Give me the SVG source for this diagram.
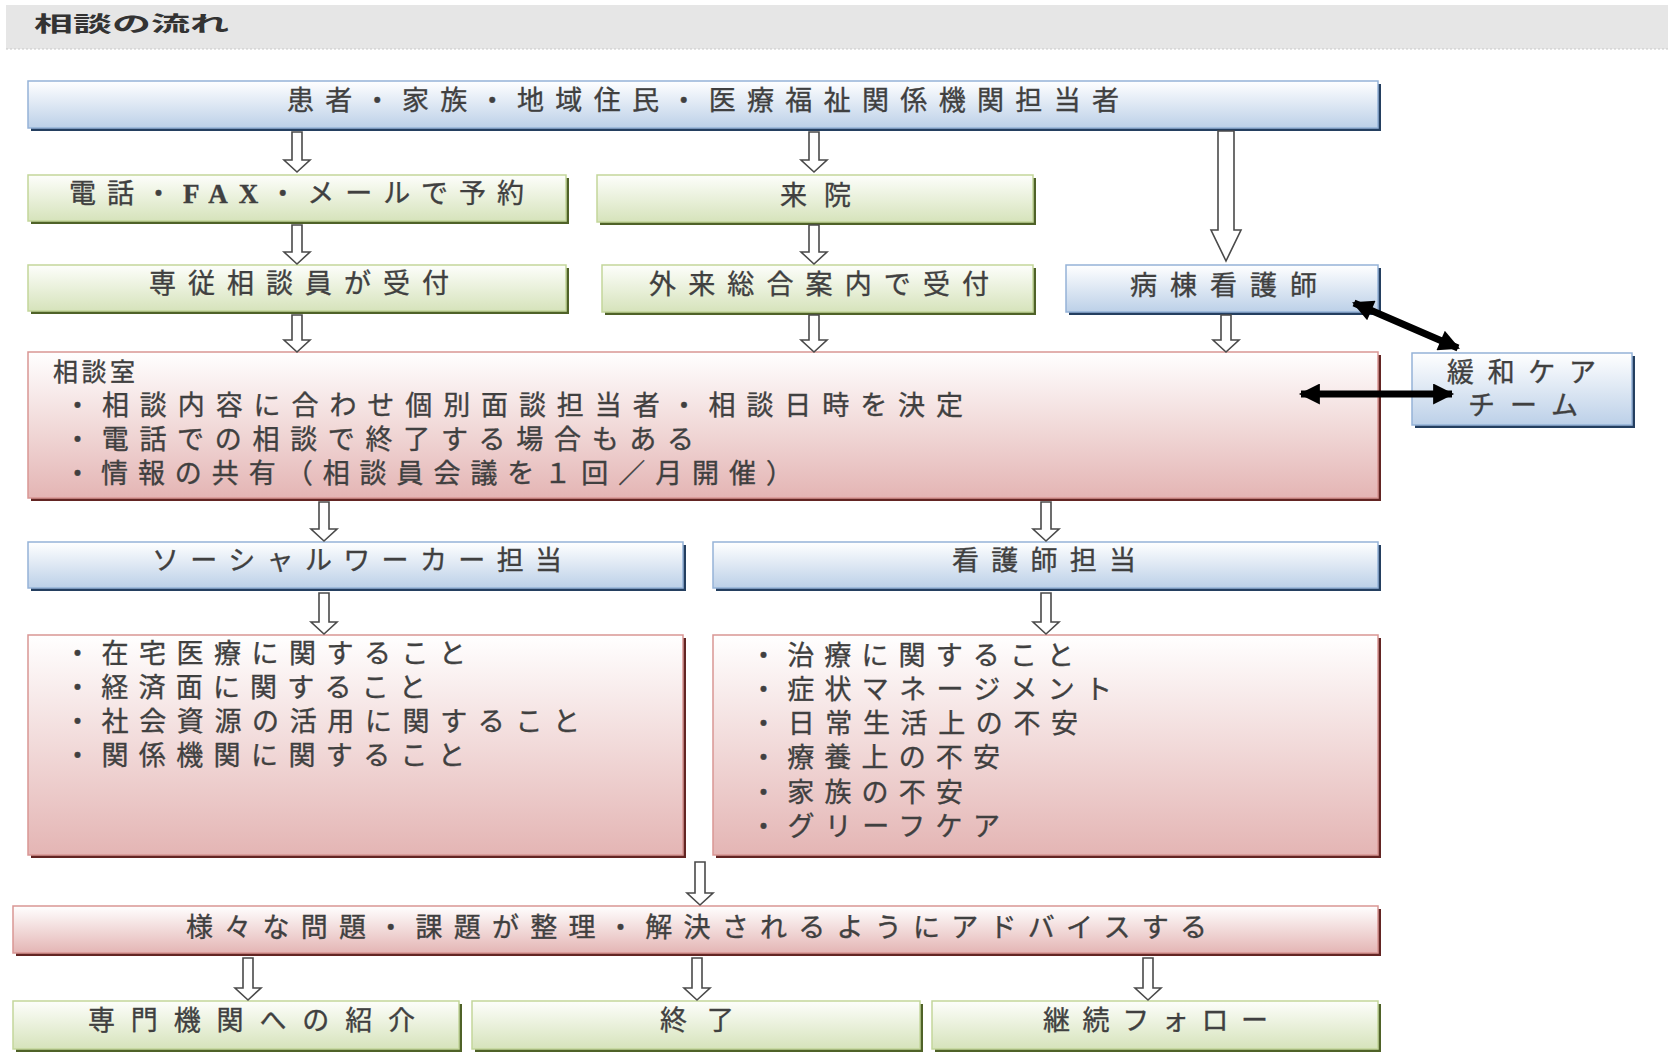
<svg xmlns="http://www.w3.org/2000/svg" width="1668" height="1053" viewBox="0 0 1668 1053">
<defs>
<linearGradient id="gBlue" x1="0" y1="0" x2="0" y2="1"><stop offset="0" stop-color="#ffffff"/><stop offset="1" stop-color="#bcd0e8"/></linearGradient>
<linearGradient id="gGreen" x1="0" y1="0" x2="0" y2="1"><stop offset="0" stop-color="#fdfefb"/><stop offset="1" stop-color="#d6e3bb"/></linearGradient>
<linearGradient id="gRed" x1="0" y1="0" x2="0" y2="1"><stop offset="0" stop-color="#ffffff"/><stop offset="1" stop-color="#e4b5b4"/></linearGradient>
<marker id="bh" viewBox="0 0 10 10" refX="9" refY="5" markerWidth="24" markerHeight="21" markerUnits="userSpaceOnUse" orient="auto-start-reverse"><path d="M0,0 L10,5 L0,10 Z" fill="#000"/></marker>
<style>
.t{font-family:"Liberation Serif","Noto Sans CJK JP",serif;font-size:27px;fill:#404040;stroke:#404040;stroke-width:0.35px;}
.hd{font-family:"Noto Sans CJK JP",sans-serif;font-size:21px;font-weight:bold;fill:#333;}
.bs{fill:#243f60}.gs{fill:#4f6228}.rs{fill:#632523}
.bb{fill:url(#gBlue);stroke:#95b3d7;stroke-width:1.5}
.gb{fill:url(#gGreen);stroke:#c3d69b;stroke-width:1.5}
.rb{fill:url(#gRed);stroke:#d99694;stroke-width:1.5}
.ha{fill:#fff;stroke:#4a4a4a;stroke-width:1.6;stroke-linejoin:miter}
.da{stroke:#000;stroke-width:7;fill:none}
</style>
</defs>
<rect width="1668" height="1053" fill="#fff"/>
<g id="header">
<rect x="6" y="5" width="1662" height="44" fill="#e6e6e6"/>
<line x1="6" y1="49" x2="1668" y2="49" stroke="#c8c8c8" stroke-width="1" stroke-dasharray="2,2"/>
<text class="hd" x="34" y="31" textLength="195" lengthAdjust="spacingAndGlyphs">相談の流れ</text>
</g>

<g id="n-top">
<rect class="bs" x="31" y="84" width="1350" height="47"/>
<rect class="bb" x="28" y="81" width="1350" height="47"/>
<text class="t" x="287" y="110" textLength="832" lengthAdjust="spacing">患者・家族・地域住民・医療福祉関係機関担当者</text>
</g>
<g id="n-tel">
<rect class="gs" x="31" y="178" width="538" height="46"/>
<rect class="gb" x="28" y="175" width="538" height="46"/>
<text class="t" x="69" y="203" textLength="455" lengthAdjust="spacing">電話・<tspan font-weight="bold">FAX</tspan>・メールで予約</text>
</g>
<g id="n-visit">
<rect class="gs" x="600" y="178" width="436" height="47"/>
<rect class="gb" x="597" y="175" width="436" height="47"/>
<text class="t" x="780" y="205" textLength="71" lengthAdjust="spacing">来院</text>
</g>
<g id="n-staff">
<rect class="gs" x="31" y="268" width="538" height="46"/>
<rect class="gb" x="28" y="265" width="538" height="46"/>
<text class="t" x="149" y="293" textLength="300" lengthAdjust="spacing">専従相談員が受付</text>
</g>
<g id="n-info">
<rect class="gs" x="605" y="268" width="431" height="47"/>
<rect class="gb" x="602" y="265" width="431" height="47"/>
<text class="t" x="649" y="294" textLength="340" lengthAdjust="spacing">外来総合案内で受付</text>
</g>
<g id="n-ward">
<rect class="bs" x="1069" y="268" width="312" height="47"/>
<rect class="bb" x="1066" y="265" width="312" height="47"/>
<text class="t" x="1130" y="295" textLength="187" lengthAdjust="spacing">病棟看護師</text>
</g>
<g id="n-room">
<rect class="rs" x="31" y="355" width="1350" height="146"/>
<rect class="rb" x="28" y="352" width="1350" height="146"/>
<text class="t" x="53" y="381" textLength="82" lengthAdjust="spacing" style="font-size:25px">相談室</text>
<text class="t" x="64" y="415" textLength="899" lengthAdjust="spacing">・相談内容に合わせ個別面談担当者・相談日時を決定</text>
<text class="t" x="64" y="449" textLength="630" lengthAdjust="spacing">・電話での相談で終了する場合もある</text>
<text class="t" x="64" y="483" textLength="729" lengthAdjust="spacing">・情報の共有（相談員会議を１回／月開催）</text>
</g>
<g id="n-palliative">
<rect class="bs" x="1415" y="356" width="220" height="72"/>
<rect class="bb" x="1412" y="353" width="220" height="72"/>
<text class="t" x="1447" y="382" textLength="149" lengthAdjust="spacing">緩和ケア</text>
<text class="t" x="1468" y="415" textLength="110" lengthAdjust="spacing">チーム</text>
</g>
<g id="n-sw">
<rect class="bs" x="31" y="545" width="655" height="46"/>
<rect class="bb" x="28" y="542" width="655" height="46"/>
<text class="t" x="152" y="570" textLength="410" lengthAdjust="spacing">ソーシャルワーカー担当</text>
</g>
<g id="n-nurse">
<rect class="bs" x="716" y="545" width="665" height="46"/>
<rect class="bb" x="713" y="542" width="665" height="46"/>
<text class="t" x="952" y="570" textLength="184" lengthAdjust="spacing">看護師担当</text>
</g>
<g id="n-sw-items">
<rect class="rs" x="31" y="638" width="655" height="220"/>
<rect class="rb" x="28" y="635" width="655" height="220"/>
<text class="t" x="64" y="663" textLength="402" lengthAdjust="spacing">・在宅医療に関すること</text>
<text class="t" x="64" y="697" textLength="362" lengthAdjust="spacing">・経済面に関すること</text>
<text class="t" x="64" y="731" textLength="516" lengthAdjust="spacing">・社会資源の活用に関すること</text>
<text class="t" x="64" y="765" textLength="401" lengthAdjust="spacing">・関係機関に関すること</text>
</g>
<g id="n-nurse-items">
<rect class="rs" x="716" y="638" width="665" height="220"/>
<rect class="rb" x="713" y="635" width="665" height="220"/>
<text class="t" x="750" y="665" textLength="324" lengthAdjust="spacing">・治療に関すること</text>
<text class="t" x="750" y="699" textLength="362" lengthAdjust="spacing">・症状マネージメント</text>
<text class="t" x="750" y="733" textLength="328" lengthAdjust="spacing">・日常生活上の不安</text>
<text class="t" x="750" y="767" textLength="250" lengthAdjust="spacing">・療養上の不安</text>
<text class="t" x="750" y="802" textLength="213" lengthAdjust="spacing">・家族の不安</text>
<text class="t" x="750" y="836" textLength="250" lengthAdjust="spacing">・グリーフケア</text>
</g>
<g id="n-advice">
<rect class="rs" x="16" y="909" width="1365" height="47"/>
<rect class="rb" x="13" y="906" width="1365" height="47"/>
<text class="t" x="186" y="937" textLength="1021" lengthAdjust="spacing">様々な問題・課題が整理・解決されるようにアドバイスする</text>
</g>
<g id="n-referral">
<rect class="gs" x="16" y="1004" width="446" height="48"/>
<rect class="gb" x="13" y="1001" width="446" height="48"/>
<text class="t" x="88" y="1030" textLength="327" lengthAdjust="spacing">専門機関への紹介</text>
</g>
<g id="n-end">
<rect class="gs" x="475" y="1004" width="448" height="48"/>
<rect class="gb" x="472" y="1001" width="448" height="48"/>
<text class="t" x="660" y="1030" textLength="74" lengthAdjust="spacing">終了</text>
</g>
<g id="n-follow">
<rect class="gs" x="935" y="1004" width="446" height="48"/>
<rect class="gb" x="932" y="1001" width="446" height="48"/>
<text class="t" x="1043" y="1030" textLength="225" lengthAdjust="spacing">継続フォロー</text>
</g>

<g id="connectors">
<path class="ha" d="M292,132 H302 V160 H310 L297,172 L284,160 H292 Z"/>
<path class="ha" d="M809,132 H819 V160 H827 L814,172 L801,160 H809 Z"/>
<path class="ha" d="M1218,131 H1234 V230 H1241 L1226,261 L1211,230 H1218 Z"/>
<path class="ha" d="M292,225 H302 V252 H310 L297,264 L284,252 H292 Z"/>
<path class="ha" d="M809,225 H819 V252 H827 L814,264 L801,252 H809 Z"/>
<path class="ha" d="M292,315 H302 V340 H310 L297,352 L284,340 H292 Z"/>
<path class="ha" d="M809,315 H819 V340 H827 L814,352 L801,340 H809 Z"/>
<path class="ha" d="M1221,315 H1231 V340 H1239 L1226,352 L1213,340 H1221 Z"/>
<path class="ha" d="M319,502 H329 V529 H337 L324,541 L311,529 H319 Z"/>
<path class="ha" d="M1041,502 H1051 V529 H1059 L1046,541 L1033,529 H1041 Z"/>
<path class="ha" d="M319,593 H329 V622 H337 L324,634 L311,622 H319 Z"/>
<path class="ha" d="M1041,593 H1051 V622 H1059 L1046,634 L1033,622 H1041 Z"/>
<path class="ha" d="M695,862 H705 V893 H713 L700,905 L687,893 H695 Z"/>
<path class="ha" d="M243,958 H253 V988 H261 L248,1000 L235,988 H243 Z"/>
<path class="ha" d="M692,958 H702 V988 H710 L697,1000 L684,988 H692 Z"/>
<path class="ha" d="M1143,958 H1153 V988 H1161 L1148,1000 L1135,988 H1143 Z"/>
<line class="da" x1="1354" y1="303" x2="1458" y2="348" marker-start="url(#bh)" marker-end="url(#bh)"/>
<line class="da" x1="1301" y1="394" x2="1452" y2="394" marker-start="url(#bh)" marker-end="url(#bh)"/>
</g>
</svg>
